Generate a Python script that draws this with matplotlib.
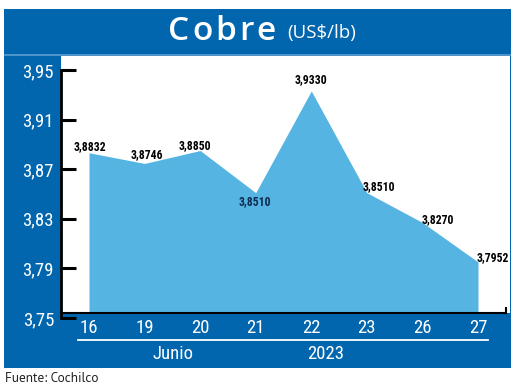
import matplotlib
matplotlib.use("Agg")
import matplotlib.pyplot as plt
from matplotlib.patches import Rectangle
from matplotlib import font_manager
import numpy as np

dias = ["16", "19", "20", "21", "22", "23", "26", "27"]
precios = [3.8832, 3.8746, 3.8850, 3.8510, 3.9330, 3.8510, 3.8270, 3.7952]
etiquetas = ["3,8832", "3,8746", "3,8850", "3,8510", "3,9330", "3,8510", "3,8270", "3,7952"]
yticks = [3.75, 3.79, 3.83, 3.87, 3.91, 3.95]
ytick_labels = ["3,75", "3,79", "3,83", "3,87", "3,91", "3,95"]

# label offsets (points) from each point
offs = [(1, 4.5), (1.5, 6.5), (-3.5, 3.5), (-0.5, -6.5), (-0.5, 8.5), (8.5, 4.5), (11, 2), (11, 3)]

names = {f.name for f in font_manager.fontManager.ttflist}

def pick(*cands):
    for c in cands:
        if c in names:
            return c
    return "DejaVu Sans"

narrow = pick("Roboto Condensed", "PT Sans Narrow", "Asap Condensed", "Archivo Narrow")
myriad = pick("PT Sans", "Open Sans")
title_font = pick("Open Sans", "Lato")

AZUL = "#0266ae"
CELESTE = "#56b4e3"
W, H = 520, 389

fig = plt.figure(figsize=(5.2, 3.89), dpi=100)

def px(x0, y0, x1, y1):
    # pixel box (top-left origin) -> figure fraction rect
    return [x0 / W, 1 - y1 / H, (x1 - x0) / W, (y1 - y0) / H]

def rect(x0, y0, x1, y1, color):
    l, b, w, h = px(x0, y0, x1, y1)
    fig.patches.append(Rectangle((l, b), w, h, transform=fig.transFigure,
                                 facecolor=color, edgecolor="none", zorder=-5))

rect(4, 9, 511, 368, AZUL)
rect(61, 55, 510, 313, "white")
rect(4, 54, 511, 55.5, "#4d94c8")

ax = fig.add_axes(px(61, 55, 510, 318))
ax.set_facecolor("none")
x = np.arange(len(dias))
base = 3.754
ax.fill_between(x, precios, base, color=CELESTE, linewidth=0, zorder=2)
ax.plot([-0.504, 7.5], [base, base], color="black", lw=1.5, zorder=3, clip_on=False)
ax.plot([7.5, 7.5], [base, base + 0.004], color="black", lw=1.5, zorder=3, clip_on=False)

ax.set_xlim(-0.504, 7.576)
ax.set_ylim(3.75, 3.962)
for s in ["top", "right", "bottom"]:
    ax.spines[s].set_visible(False)
ax.spines["left"].set_bounds(3.75, 3.95)
ax.spines["left"].set_linewidth(2)

ax.set_yticks(yticks)
ax.set_yticklabels(ytick_labels, fontsize=13.5, color="white", family=narrow)
ax.tick_params(axis="y", direction="in", length=11, width=2.2, color="black", pad=5)
ax.set_xticks(x)
ax.set_xticklabels(dias, fontsize=13.5, color="white", family=narrow)
ax.tick_params(axis="x", length=0, pad=1)

for i, (v, t) in enumerate(zip(precios, etiquetas)):
    col = "#0e2c52" if i == 3 else "black"
    ax.annotate(t, (x[i], v), xytext=offs[i], textcoords="offset points",
                ha="center", va="center", fontweight="bold",
                fontsize=8.5, color=col, zorder=4, family=narrow)

# white rule under the day labels
fig.add_artist(plt.Line2D([78 / W, 488 / W], [1 - 340 / H, 1 - 340 / H],
                          color="white", lw=1.3))
fig.text(173 / W, 1 - 354 / H, "Junio", fontsize=13.5,
         color="white", ha="center", va="center", family=narrow)
fig.text(326 / W, 1 - 354 / H, "2023", fontsize=13.5,
         color="white", ha="center", va="center", family=narrow)

# title with a little letter spacing
renderer = fig.canvas.get_renderer()
cx = 168.0
for ch in "Cobre":
    t = fig.text(cx / W, 1 - 31 / H, ch, family=title_font, fontweight="semibold",
                 fontsize=24, color="white", ha="left", va="center")
    cx += t.get_window_extent(renderer).width + 3
fig.text(287 / W, 1 - 33 / H, "(US$/lb)", family=title_font, fontsize=13.5,
         color="white", ha="left", va="center")

fig.text(5 / W, 1 - 378 / H, "Fuente: Cochilco", family=myriad, fontsize=9.5,
         color="#222222", ha="left", va="center")

fig.savefig("out.png", dpi=100)
